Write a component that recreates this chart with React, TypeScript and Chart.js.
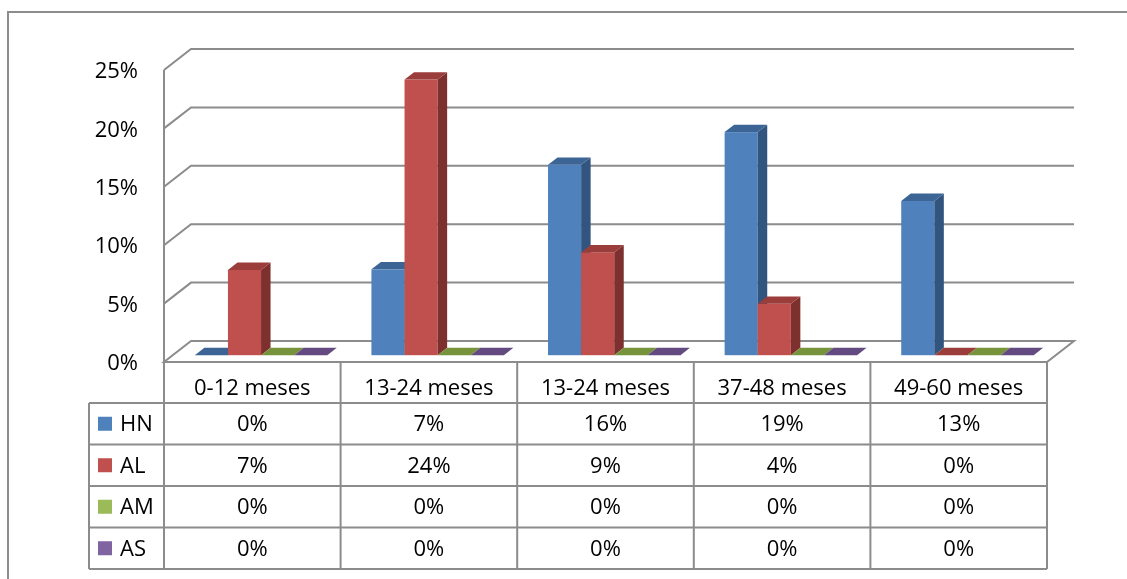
import React, { useEffect, useRef } from "react";
import { Chart, registerables } from "chart.js";

Chart.register(...registerables);

const categories = ["0-12 meses", "13-24 meses", "13-24 meses", "37-48 meses", "49-60 meses"];
const seriesNames = ["HN", "AL", "AM", "AS"];
const hnValues = [0, 0.0735, 0.163, 0.191, 0.132];
const alValues = [0.073, 0.236, 0.088, 0.044, 0];
const amValues = [0, 0, 0, 0, 0];
const asValues = [0, 0, 0, 0, 0];
const yTicks = [0, 0.05, 0.1, 0.15, 0.2, 0.25];

const frontColors = ["#4f81bd", "#c0504d", "#9bbb59", "#8064a2"];
const topColors = ["#3c6595", "#9b3d3a", "#77933c", "#634b81"];
const sideColors = ["#32557f", "#7e302e", "#637b30", "#52406b"];

const W = 1127;
const H = 579;
const DX = 27;
const DY = -21;
const SX = 8.75;
const SY = -6.8;
const BDX = 9.5;
const BDY = -7.4;
const LINE = "#8c8c8c";
const FONT = '22px "Open Sans", Lato, sans-serif';
const LEGEND_LEFT = 89;
const HEADER_H = 41;
const ROW_H = 41.5;

const allSeries = [hnValues, alValues, amValues, asValues];

const fmt = (v: number) => Math.round(v * 100) + "%";

const excel3d = {
  id: "excel3d",
  beforeDatasetsDraw(chart: any) {
    const ctx: CanvasRenderingContext2D = chart.ctx;
    const { left, right, bottom } = chart.chartArea;
    const y = chart.scales.y;
    ctx.save();
    ctx.strokeStyle = LINE;
    ctx.lineWidth = 2;
    ctx.beginPath();
    ctx.moveTo(8, H + 5);
    ctx.lineTo(8, 12);
    ctx.lineTo(W + 5, 12);
    ctx.stroke();
    for (const t of yTicks) {
      if (t === 0) continue;
      const py = y.getPixelForValue(t);
      ctx.beginPath();
      ctx.moveTo(left, py);
      ctx.lineTo(left + DX, py + DY);
      ctx.lineTo(right + DX, py + DY);
      ctx.stroke();
    }
    const pTop = y.getPixelForValue(yTicks[yTicks.length - 1]);
    ctx.beginPath();
    ctx.moveTo(left, pTop);
    ctx.lineTo(left, bottom);
    ctx.stroke();
    ctx.beginPath();
    ctx.moveTo(left, bottom);
    ctx.lineTo(right, bottom);
    ctx.lineTo(right + DX, bottom + DY);
    ctx.lineTo(left + DX, bottom + DY);
    ctx.closePath();
    ctx.stroke();
    ctx.fillStyle = "#000";
    ctx.font = FONT;
    ctx.textAlign = "right";
    ctx.textBaseline = "middle";
    for (const t of yTicks) {
      ctx.fillText(fmt(t), 138, y.getPixelForValue(t) + 2);
    }
    ctx.restore();
  },
  afterDatasetsDraw(chart: any) {
    const ctx: CanvasRenderingContext2D = chart.ctx;
    ctx.save();
    for (let i = 0; i < categories.length; i++) {
      for (let d = 0; d < allSeries.length; d++) {
        const el = chart.getDatasetMeta(d).data[i];
        if (!el) continue;
        const p = el.getProps(["x", "y", "base", "width"], true);
        const x0 = p.x - p.width / 2 + SX;
        const x1 = p.x + p.width / 2 + SX;
        const ft = Math.min(p.y, p.base) + SY;
        const fb = Math.max(p.y, p.base) + SY;
        if (fb - ft > 0.5) {
          ctx.fillStyle = frontColors[d];
          ctx.fillRect(x0, ft, x1 - x0, fb - ft);
          ctx.fillStyle = sideColors[d];
          ctx.beginPath();
          ctx.moveTo(x1, ft);
          ctx.lineTo(x1 + BDX, ft + BDY);
          ctx.lineTo(x1 + BDX, fb + BDY);
          ctx.lineTo(x1, fb);
          ctx.closePath();
          ctx.fill();
        }
        ctx.fillStyle = topColors[d];
        ctx.beginPath();
        ctx.moveTo(x0, ft);
        ctx.lineTo(x0 + BDX, ft + BDY);
        ctx.lineTo(x1 + BDX, ft + BDY);
        ctx.lineTo(x1, ft);
        ctx.closePath();
        ctx.fill();
      }
    }
    ctx.restore();
  },
  afterDraw(chart: any) {
    const ctx: CanvasRenderingContext2D = chart.ctx;
    const { left, right, bottom } = chart.chartArea;
    const x = chart.scales.x;
    const cw = (right - left) / categories.length;
    const rowTop = bottom + HEADER_H;
    const tableBottom = rowTop + ROW_H * seriesNames.length;
    ctx.save();
    ctx.strokeStyle = LINE;
    ctx.lineWidth = 2;
    for (let i = 0; i <= categories.length; i++) {
      const px = left + i * cw;
      ctx.beginPath();
      ctx.moveTo(px, bottom);
      ctx.lineTo(px, tableBottom);
      ctx.stroke();
    }
    ctx.beginPath();
    ctx.moveTo(LEGEND_LEFT, rowTop);
    ctx.lineTo(LEGEND_LEFT, tableBottom);
    ctx.stroke();
    for (let r = 0; r <= seriesNames.length; r++) {
      const py = rowTop + r * ROW_H;
      ctx.beginPath();
      ctx.moveTo(LEGEND_LEFT, py);
      ctx.lineTo(right, py);
      ctx.stroke();
    }
    ctx.fillStyle = "#000";
    ctx.font = FONT;
    ctx.textBaseline = "middle";
    ctx.textAlign = "center";
    for (let i = 0; i < categories.length; i++) {
      const cx = x.getPixelForValue(i);
      ctx.fillText(categories[i], cx, bottom + 27);
      for (let r = 0; r < seriesNames.length; r++) {
        ctx.fillText(fmt(allSeries[r][i]), cx, rowTop + r * ROW_H + ROW_H / 2 + 1);
      }
    }
    ctx.textAlign = "left";
    for (let r = 0; r < seriesNames.length; r++) {
      const cy = rowTop + r * ROW_H + ROW_H / 2;
      ctx.fillStyle = frontColors[r];
      ctx.fillRect(98, cy - 7, 14, 14);
      ctx.fillStyle = "#000";
      ctx.fillText(seriesNames[r], 120, cy + 1);
    }
    ctx.restore();
  },
};

export default function App() {
  const ref = useRef<HTMLCanvasElement | null>(null);
  useEffect(() => {
    if (!ref.current) return;
    const chart = new Chart(ref.current, {
      type: "bar",
      data: {
        labels: categories,
        datasets: seriesNames.map((name, d) => ({
          label: name,
          data: allSeries[d],
          backgroundColor: "rgba(0,0,0,0)",
          borderWidth: 0,
          categoryPercentage: 0.75,
          barPercentage: 1,
        })),
      },
      options: {
        responsive: false,
        animation: false,
        devicePixelRatio: 1,
        layout: { padding: { left: 164, right: W - 1047, top: 70, bottom: H - 362 } },
        plugins: { legend: { display: false }, tooltip: { enabled: false }, title: { display: false } },
        scales: {
          x: { display: false, offset: true },
          y: { display: false, min: 0, max: 0.25 },
        },
      },
      plugins: [excel3d],
    });
    return () => chart.destroy();
  }, []);
  return (
    <div style={{ position: "absolute", left: 0, top: 0, width: W, height: H, background: "#fff" }}>
      <canvas ref={ref} width={W} height={H} style={{ display: "block" }} />
    </div>
  );
}
